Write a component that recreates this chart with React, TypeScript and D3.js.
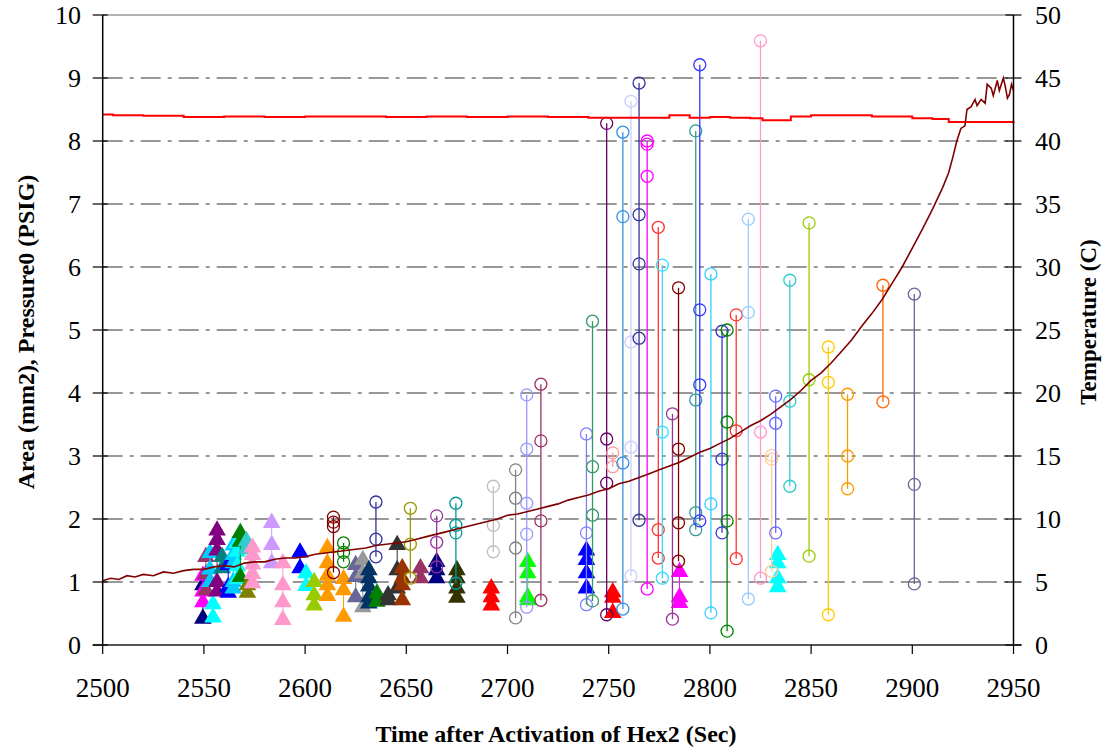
import React from 'react';
import * as d3 from 'd3';

// ---------- data ----------
const X_TICKS = [2500, 2550, 2600, 2650, 2700, 2750, 2800, 2850, 2900, 2950];
const LEFT_TICKS = [0, 1, 2, 3, 4, 5, 6, 7, 8, 9, 10];
const RIGHT_TICKS = [0, 5, 10, 15, 20, 25, 30, 35, 40, 45, 50];
const GRID_VALUES = [1, 2, 3, 4, 5, 6, 7, 8, 9];

type Series = { t: number; color: string; v: number[] };

// filled-triangle series (time, colour, area values)
const TRIANGLE_SERIES: Series[] = [
  { t: 2549.5, color: '#000080', v: [0.42, 0.95] },
  { t: 2549.5, color: '#ff00ff', v: [0.68, 0.85, 1.1] },
  { t: 2551, color: '#993366', v: [1.4, 1.12, 0.87] },
  { t: 2554.5, color: '#00ffff', v: [0.44, 0.65] },
  { t: 2553, color: '#00ccff', v: [1.0, 1.2, 1.46] },
  { t: 2556.5, color: '#800080', v: [1.82, 1.67, 1.5, 1.0, 0.85] },
  { t: 2559, color: '#008080', v: [1.4, 1.22] },
  { t: 2562, color: '#0000ff', v: [0.83, 0.92, 1.27] },
  { t: 2564.5, color: '#00ccff', v: [1.58, 1.43, 1.3, 1.0, 0.9] },
  { t: 2566.5, color: '#00ffff', v: [1.62, 1.48, 1.25, 1.05] },
  { t: 2568, color: '#008000', v: [1.78, 1.64, 1.08] },
  { t: 2571, color: '#33cccc', v: [1.65, 1.52] },
  { t: 2571.5, color: '#808000', v: [0.83, 0.95] },
  { t: 2574, color: '#ff99cc', v: [1.55, 1.43, 1.28, 1.13, 0.98] },
  { t: 2583.5, color: '#cc99ff', v: [1.94, 1.59, 1.3] },
  { t: 2589, color: '#ff99cc', v: [1.3, 0.95, 0.68, 0.4] },
  { t: 2597.5, color: '#0000ff', v: [1.47, 1.22] },
  { t: 2600.5, color: '#00ffff', v: [1.14, 0.94] },
  { t: 2604.5, color: '#99cc00', v: [1.0, 0.79, 0.63] },
  { t: 2611, color: '#ff9900', v: [1.54, 1.3, 1.1, 0.95, 0.78] },
  { t: 2619, color: '#ff9900', v: [1.05, 0.87, 0.45] },
  { t: 2625, color: '#666699', v: [1.27, 1.08, 0.76] },
  { t: 2628.5, color: '#999999', v: [1.35, 1.14, 0.6] },
  { t: 2631.5, color: '#003366', v: [1.19, 1.06, 0.93, 0.76, 0.66] },
  { t: 2635.5, color: '#008000', v: [0.82, 0.69] },
  { t: 2641, color: '#333333', v: [0.79, 0.71] },
  { t: 2645.5, color: '#333333', v: [1.59, 1.19, 0.9] },
  { t: 2648, color: '#993300', v: [1.22, 1.06, 0.95, 0.71] },
  { t: 2657, color: '#993366', v: [1.22, 1.06] },
  { t: 2665, color: '#000080', v: [1.32, 1.19, 1.06] },
  { t: 2675, color: '#333300', v: [1.19, 1.06, 0.9, 0.75] },
  { t: 2692, color: '#ff0000', v: [0.9, 0.76, 0.63] },
  { t: 2710, color: '#00ff00', v: [1.32, 1.14, 0.76, 0.71] },
  { t: 2739, color: '#0000ff', v: [1.5, 1.35, 1.14, 0.9] },
  { t: 2752, color: '#ff0000', v: [0.84, 0.75, 0.51] },
  { t: 2785, color: '#ff00ff', v: [1.16, 0.76, 0.67] },
  { t: 2833.5, color: '#00ffff', v: [1.43, 1.3, 1.06, 0.92] },
];

// open-circle series joined by a vertical line
const CIRCLE_SERIES: Series[] = [
  { t: 2614, color: '#800000', v: [2.03, 1.95, 1.88, 1.15] },
  { t: 2619, color: '#008000', v: [1.62, 1.47, 1.32] },
  { t: 2635, color: '#333399', v: [2.27, 1.68, 1.4] },
  { t: 2652, color: '#999900', v: [2.17, 1.6, 1.06] },
  { t: 2665, color: '#993399', v: [2.05, 1.63, 1.24] },
  { t: 2674.5, color: '#009999', v: [2.25, 1.9, 1.78, 0.98] },
  { t: 2693, color: '#c0c0c0', v: [2.52, 1.9, 1.48] },
  { t: 2704, color: '#808080', v: [2.78, 2.33, 1.54, 0.43] },
  { t: 2709.5, color: '#9999ff', v: [3.97, 3.11, 2.25, 1.76, 0.6] },
  { t: 2716.5, color: '#993366', v: [4.14, 3.24, 1.97, 0.71] },
  { t: 2739, color: '#8080ff', v: [3.35, 1.78, 0.64] },
  { t: 2742, color: '#339966', v: [5.14, 2.83, 2.06, 0.7] },
  { t: 2749, color: '#660066', v: [8.28, 3.27, 2.57, 0.48] },
  { t: 2752, color: '#ff9999', v: [3.05, 2.83] },
  { t: 2757, color: '#338fe0', v: [8.14, 6.8, 2.89, 0.57] },
  { t: 2761, color: '#ccccff', v: [8.63, 4.81, 3.14, 1.1] },
  { t: 2765, color: '#333399', v: [8.92, 6.83, 6.05, 4.87, 1.98] },
  { t: 2769, color: '#ff00ff', v: [8.0, 7.95, 7.44, 0.89] },
  { t: 2774.5, color: '#ff3333', v: [6.63, 1.83, 1.38] },
  { t: 2776.5, color: '#33ddff', v: [6.03, 3.38, 1.06] },
  { t: 2781.5, color: '#993399', v: [3.67, 0.41] },
  { t: 2784.5, color: '#800000', v: [5.67, 3.11, 1.94, 1.33] },
  { t: 2793, color: '#339999', v: [8.16, 3.89, 2.1, 1.83] },
  { t: 2795, color: '#3333ff', v: [9.21, 5.32, 4.13, 1.97] },
  { t: 2800.5, color: '#33ccff', v: [5.89, 2.24, 0.51] },
  { t: 2806, color: '#3333cc', v: [4.98, 2.95, 1.78] },
  { t: 2808.5, color: '#008000', v: [5.0, 3.54, 1.97, 0.22] },
  { t: 2813, color: '#ff3333', v: [5.24, 3.4, 1.37] },
  { t: 2819, color: '#99ccff', v: [6.76, 5.28, 0.73] },
  { t: 2825, color: '#ff99cc', v: [9.59, 3.38, 1.06] },
  { t: 2830.5, color: '#ffcc99', v: [3.01, 2.95, 1.17] },
  { t: 2832.5, color: '#6666ff', v: [3.95, 3.52, 1.78] },
  { t: 2839.5, color: '#33cccc', v: [5.79, 3.87, 2.52] },
  { t: 2849, color: '#99cc00', v: [6.7, 4.21, 1.41] },
  { t: 2858.5, color: '#ffcc00', v: [4.73, 4.17, 0.48] },
  { t: 2868, color: '#ff9900', v: [3.98, 3.0, 2.48] },
  { t: 2885.5, color: '#ff6600', v: [5.71, 3.86] },
  { t: 2901, color: '#666699', v: [5.57, 2.55, 0.97] },
];

// Pressure0 (left axis, PSIG)
const PRESSURE_T = [2500, 2505, 2520, 2540, 2560, 2580, 2600, 2620, 2640, 2660, 2680, 2700, 2720, 2740, 2760, 2780, 2790, 2800, 2810, 2820, 2826, 2836, 2840, 2850, 2860, 2880, 2900, 2910, 2918, 2935, 2950];
const PRESSURE_V = [8.42, 8.41, 8.4, 8.38, 8.39, 8.38, 8.39, 8.39, 8.38, 8.39, 8.38, 8.39, 8.38, 8.37, 8.37, 8.41, 8.37, 8.38, 8.37, 8.36, 8.33, 8.33, 8.39, 8.41, 8.41, 8.39, 8.36, 8.35, 8.3, 8.3, 8.28];

// Temperature (right axis, C)
const TEMP_T = [2500, 2504, 2508, 2512, 2516, 2520, 2525, 2530, 2535, 2540, 2545, 2550, 2555, 2560, 2565, 2570, 2575, 2580, 2585, 2590, 2595, 2600, 2605, 2610, 2615, 2620, 2625, 2630, 2635, 2640, 2645, 2650, 2655, 2660, 2665, 2670, 2675, 2680, 2685, 2690, 2695, 2700, 2705, 2710, 2715, 2720, 2725, 2730, 2735, 2740, 2745, 2750, 2755, 2760, 2765, 2770, 2775, 2780, 2785, 2790, 2795, 2800, 2805, 2810, 2815, 2820, 2825, 2830, 2835, 2840, 2845, 2850, 2855, 2860, 2865, 2870, 2875, 2880, 2885, 2890, 2895, 2900, 2905, 2910, 2915, 2918, 2920, 2922, 2924, 2926, 2927, 2929, 2931, 2932, 2934, 2936, 2937, 2939, 2940, 2942, 2943, 2945, 2946, 2947, 2948, 2949, 2950];
const TEMP_V = [5.1, 5.3, 5.2, 5.5, 5.4, 5.6, 5.5, 5.8, 5.7, 5.9, 6.0, 6.0, 6.2, 6.3, 6.2, 6.5, 6.6, 6.6, 6.8, 6.9, 6.9, 7.0, 7.2, 7.3, 7.4, 7.5, 7.6, 7.7, 7.9, 8.0, 8.1, 8.2, 8.4, 8.6, 8.8, 9.0, 9.2, 9.4, 9.6, 9.8, 10.0, 10.3, 10.4, 10.6, 10.8, 11.0, 11.2, 11.5, 11.7, 11.9, 12.2, 12.4, 12.8, 13.0, 13.3, 13.6, 13.9, 14.2, 14.5, 14.9, 15.3, 15.6, 16.0, 16.4, 16.9, 17.4, 17.8, 18.3, 18.9, 19.5, 20.2, 21.0, 21.6, 22.4, 23.3, 24.2, 25.3, 26.3, 27.4, 28.7, 30.0, 31.5, 33.0, 34.6, 36.3, 37.5, 38.7, 40.0, 41.0, 41.2, 42.5, 42.7, 43.3, 42.8, 43.3, 43.0, 44.5, 44.2, 43.6, 44.8, 44.0, 45.0, 44.3, 43.4, 43.7, 44.5, 44.0];

// ---------- layout ----------
const W = 1107;
const H = 750;
const PL = 102.7;
const PR = 1013.5;
const PT = 15;
const PB = 645;
const FONT = "'Liberation Serif', 'Times New Roman', Times, serif";

export default function App() {
  const x = d3.scaleLinear().domain([2500, 2950]).range([PL, PR]);
  const yL = d3.scaleLinear().domain([0, 10]).range([PB, PT]);
  const yR = d3.scaleLinear().domain([0, 50]).range([PB, PT]);

  const tri = d3.symbol().type(d3.symbolTriangle).size(135)();

  const vline = d3
    .line<number>()
    .x(() => 0)
    .y((d) => yL(d));

  const pressureLine = d3
    .line<number>()
    .x((_, i) => x(PRESSURE_T[i]))
    .y((d) => yL(d))
    .curve(d3.curveStepAfter);

  const tempLine = d3
    .line<number>()
    .x((_, i) => x(TEMP_T[i]))
    .y((d) => yR(d));

  const txt = { fontFamily: FONT };

  return (
    <svg
      width={W}
      height={H}
      style={{ position: 'absolute', left: 0, top: 0, background: '#fff' }}
    >
      <rect x={0} y={0} width={W} height={H} fill="#fff" />
      {/* gridlines */}
      {GRID_VALUES.map((g) => (
        <line
          key={g}
          x1={PL}
          x2={PR}
          y1={yL(g)}
          y2={yL(g)}
          stroke="#333"
          strokeWidth={1.2}
          strokeDasharray="20 7 4 7"
        />
      ))}
      {/* top border */}
      <line x1={PL} x2={PR} y1={PT} y2={PT} stroke="#999" strokeWidth={1.5} />

      {/* triangle series */}
      {TRIANGLE_SERIES.map((s, i) => (
        <g key={'t' + i} transform={`translate(${x(s.t)},0)`}>
          <path d={vline(s.v) || ''} stroke={s.color} strokeWidth={1} fill="none" />
          {s.v.map((v, j) => (
            <path key={j} d={tri || ''} transform={`translate(0,${yL(v)})`} fill={s.color} />
          ))}
        </g>
      ))}

      {/* circle series */}
      {CIRCLE_SERIES.map((s, i) => (
        <g key={'c' + i} transform={`translate(${x(s.t)},0)`}>
          <path d={vline(s.v) || ''} stroke={s.color} strokeWidth={1.3} fill="none" />
          {s.v.map((v, j) => (
            <circle key={j} cx={0} cy={yL(v)} r={6} fill="none" stroke={s.color} strokeWidth={1.3} />
          ))}
        </g>
      ))}

      {/* pressure and temperature */}
      <path d={pressureLine(PRESSURE_V) || ''} stroke="#ff0000" strokeWidth={2} fill="none" />
      <path d={tempLine(TEMP_V) || ''} stroke="#800000" strokeWidth={1.6} fill="none" />

      {/* axes */}
      <line x1={PL} x2={PL} y1={PT} y2={PB} stroke="#000" strokeWidth={1.5} />
      <line x1={PR} x2={PR} y1={PT} y2={PB} stroke="#000" strokeWidth={1.5} />
      <line x1={PL - 10} x2={PR + 8} y1={PB} y2={PB} stroke="#555" strokeWidth={2} />

      {LEFT_TICKS.map((t) => (
        <g key={'l' + t}>
          <line x1={PL - 10} x2={PL + 5} y1={yL(t)} y2={yL(t)} stroke="#000" strokeWidth={1.2} />
          <text x={81} y={yL(t)} dy="0.34em" textAnchor="end" fontSize={26} fill="#000" style={txt}>
            {t}
          </text>
        </g>
      ))}
      {RIGHT_TICKS.map((t) => (
        <g key={'r' + t}>
          <line x1={PR - 8} x2={PR + 8} y1={yR(t)} y2={yR(t)} stroke="#000" strokeWidth={1.2} />
          <text x={1035} y={yR(t)} dy="0.34em" textAnchor="start" fontSize={26} fill="#000" style={txt}>
            {t}
          </text>
        </g>
      ))}
      {X_TICKS.map((t) => (
        <g key={'x' + t}>
          <line x1={x(t)} x2={x(t)} y1={PB} y2={PB + 9} stroke="#000" strokeWidth={1.2} />
          <text x={x(t)} y={697} textAnchor="middle" fontSize={27} fill="#000" style={txt}>
            {t}
          </text>
        </g>
      ))}

      {/* titles */}
      <text x={556} y={742} textAnchor="middle" fontSize={24} fontWeight="bold" fill="#000" style={txt}>
        Time after Activation of Hex2 (Sec)
      </text>
      <text
        transform={`translate(34,332) rotate(-90)`}
        textAnchor="middle"
        fontSize={24}
        fontWeight="bold"
        fill="#000"
        style={txt}
      >
        Area (mm2), Pressure0 (PSIG)
      </text>
      <text
        transform={`translate(1096,322) rotate(-90)`}
        textAnchor="middle"
        fontSize={23}
        fontWeight="bold"
        fill="#000"
        style={txt}
      >
        Temperature (C)
      </text>
    </svg>
  );
}
